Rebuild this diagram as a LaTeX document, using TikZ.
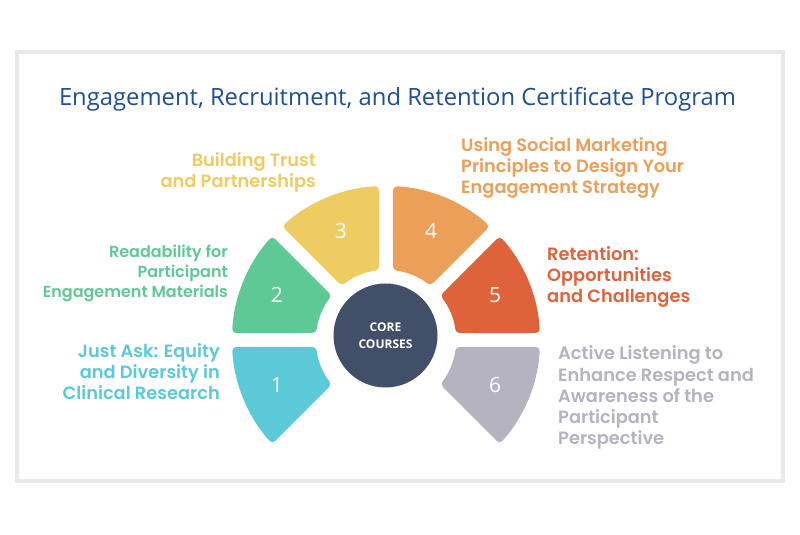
\documentclass[tikz,border=0pt]{standalone}
\usepackage{fontspec}
\setmainfont{Open Sans}
\newfontfamily\pop{Poppins}[BoldFont={* SemiBold}]
\usetikzlibrary{calc}
\definecolor{cA}{HTML}{5BC9D8}
\definecolor{cB}{HTML}{5EC994}
\definecolor{cC}{HTML}{EFCC62}
\definecolor{cD}{HTML}{EC9F58}
\definecolor{cE}{HTML}{DF633A}
\definecolor{cF}{HTML}{B4B3BF}
\definecolor{core}{HTML}{414F68}
\definecolor{ttl}{HTML}{1F4F96}
\definecolor{frm}{HTML}{E8E8E8}
\begin{document}
\begin{tikzpicture}[x=1pt,y=1pt,
  lab/.style={font=\pop\bfseries\fontsize{17.8}{21.3}\selectfont, inner sep=0pt},
  labs/.style={font=\pop\bfseries\fontsize{16}{20}\selectfont, inner sep=0pt},
  num/.style={text=white, font=\fontsize{21}{21}\selectfont, inner sep=0pt},
  seg/.style={rounded corners=4pt}]
\useasboundingbox (0,0) rectangle (800,535);
\fill[white] (0,0) rectangle (800,535);
\draw[frm, line width=4pt] (17,54) rectangle (783,483);
\node[text=ttl, font=\fontsize{23.8}{24}\selectfont, anchor=base, inner sep=0pt] (title) at (397.5,429) {Engagement, Recruitment, and Retention Certificate Program};
\coordinate (C) at (386,195);
\foreach \a/\b/\c/\n in {180/225/cA/1, 135/180/cB/2, 90/135/cC/3, 45/90/cD/4, 0/45/cE/5, -45/0/cF/6}{
  \pgfmathsetmacro\oa{\a+2.6}
  \pgfmathsetmacro\ob{\b-2.6}
  \pgfmathsetmacro\ia{\a+5.74}
  \pgfmathsetmacro\ib{\b-5.74}
  \pgfmathsetmacro\mid{(\a+\b)/2}
  \fill[\c, seg] ($(C)+(\oa:154)$) arc[start angle=\oa, end angle=\ob, radius=154]
     -- ($(C)+(\ib:70)$) arc[start angle=\ib, end angle=\ia, radius=70] -- cycle;
  \node[num] (n\n) at ($(C)+(\mid:118)$) {\n};
}
\node[circle, fill=core, minimum size=104pt, inner sep=0pt, text=white, align=center,
  font=\bfseries\fontsize{12}{17}\selectfont] (core) at (385.5,199.5) {CORE\\COURSES};
\node[lab, text=cC, align=right, anchor=base east] (l3) at (316,347) {Building Trust\\and Partnerships};
\node[labs, text=cB, align=right, anchor=base east] (l2) at (228,237) {Readability for\\Participant\\Engagement Materials};
\node[lab, text=cA, align=right, anchor=base east] (l1) at (220,135) {Just Ask: Equity\\and Diversity in\\Clinical Research};
\node[lab, text=cD, align=left, anchor=base west] (l4) at (461,341) {Using Social Marketing\\Principles to Design Your\\Engagement Strategy};
\node[lab, text=cE, align=left, anchor=base west] (l5) at (547,232) {Retention:\\Opportunities\\and Challenges};
\node[lab, text=cF, align=left, anchor=base west] (l6) at (558,90) {Active Listening to\\Enhance Respect and\\Awareness of the\\Participant\\Perspective};
\end{tikzpicture}
\end{document}
